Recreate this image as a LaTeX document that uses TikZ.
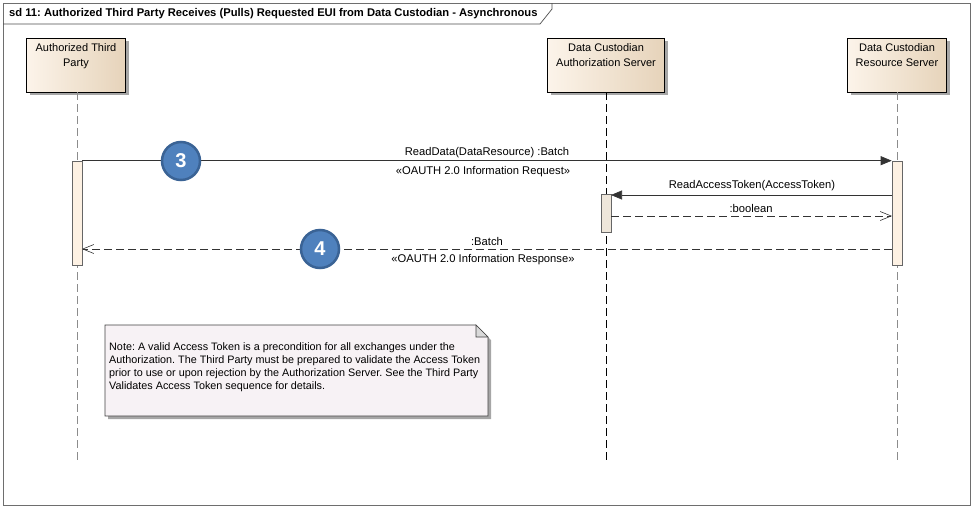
\documentclass[tikz,border=0pt]{standalone}
\usepackage{fontspec}
\setmainfont{Liberation Sans}
\usetikzlibrary{arrows.meta,shadows}
\frenchspacing
\definecolor{headL}{HTML}{FCF4EA}
\definecolor{headM}{HTML}{F7EBDC}
\definecolor{headR}{HTML}{E6D3BA}
\definecolor{barF}{HTML}{FDF1E3}
\definecolor{barG}{HTML}{EEE6DA}
\definecolor{noteF}{HTML}{F7F2F5}
\definecolor{circF}{HTML}{4F81BD}
\definecolor{circD}{HTML}{3A6395}
\definecolor{frameC}{HTML}{6E6E6E}
\tikzset{
  head/.style={draw=black, line width=0.7pt, left color=headL, middle color=headM, right color=headR,
    minimum width=99pt, minimum height=54pt, inner sep=0pt,
    drop shadow={shadow xshift=3pt, shadow yshift=-3pt, fill=black!35, opacity=1}},
  headtxt/.style={anchor=north, align=center, font=\fontsize{11}{14.5}\selectfont, inner sep=0pt},
  lifeline/.style={draw=black!45, line width=0.6pt, dash pattern=on 8pt off 4pt},
  lifelineB/.style={draw=black, line width=0.6pt, dash pattern=on 8pt off 4pt},
  actbar/.style={draw=black!60, line width=0.6pt, fill=barF, minimum width=10pt, inner sep=0pt},
  msg/.style={draw=black!80, line width=0.6pt, -{Triangle[length=11pt,width=9pt]}},
  ret/.style={draw=black!80, line width=0.6pt, dash pattern=on 8pt off 4pt,
    -{Straight Barb[length=11pt,width=9pt,line width=0.6pt]}},
  mlabel/.style={font=\fontsize{11.2}{13}\selectfont, inner sep=0pt},
  stepnum/.style={circle, fill=circF, draw=circD, line width=2.5pt, minimum size=38pt, inner sep=0pt,
    text=white, font=\fontsize{20}{20}\selectfont\bfseries},
}
\begin{document}
\begin{tikzpicture}[x=1pt,y=-1pt]
\useasboundingbox (0,0) rectangle (975,509);
% frame
\draw[draw=frameC, line width=0.8pt] (3,3) rectangle (970,505);
\draw[draw=black!70, line width=0.7pt] (3,24) -- (540,24) -- (552,9) -- (552,3);
\node[anchor=west, font=\fontsize{11.2}{12}\selectfont\bfseries, inner sep=0pt] (title) at (9,13.5)
  {sd 11: Authorized Third Party Receives (Pulls) Requested EUI from Data Custodian - Asynchronous};

% lifeline heads
\node[head] (atp) at (76,65) {};
\node[headtxt] (atpT) at (76,43.5) {Authorized Third\\Party};
\node[head, minimum width=117pt] (as) at (606,65) {};
\node[headtxt] (asT) at (606,43.5) {Data Custodian\\Authorization Server};
\node[head] (rs) at (897,65) {};
\node[headtxt] (rsT) at (897,43.5) {Data Custodian\\Resource Server};

% lifelines
\coordinate (atpE) at (77,460);
\coordinate (asE) at (606,460);
\coordinate (rsE) at (897,460);
\draw[lifeline] (atp.south -| atpE) -- (atpE);
\draw[lifelineB] (as.south -| asE) -- (asE);
\draw[lifeline] (rs.south -| rsE) -- (rsE);

% activation bars
\node[actbar, minimum height=104pt] (atpB) at (77,213) {};
\node[actbar, minimum height=104pt] (rsB) at (897,213) {};
\node[actbar, fill=barG, minimum height=38pt] (asB) at (606,213) {};

% message endpoints
\coordinate (m2s) at (892,195);
\coordinate (m2e) at (611,195);
\coordinate (m3s) at (611,216);
\coordinate (m3e) at (892,216);
\coordinate (m4s) at (892,249);
\coordinate (m4e) at (82,249);

% messages
\draw[msg] (atpB.north east) -- (rsB.north west);
\node[mlabel] (l1) at (487,153) {ReadData(DataResource) :Batch};
\node[mlabel] (s1) at (483,172) {«OAUTH 2.0 Information Request»};
\draw[msg] (m2s) -- (m2e);
\node[mlabel] (l2) at (752,186) {ReadAccessToken(AccessToken)};
\draw[ret] (m3s) -- (m3e);
\node[mlabel] (l3) at (751,208) {:boolean};
\draw[ret] (m4s) -- (m4e);
\node[mlabel] (l4) at (487,241) {:Batch};
\node[mlabel] (s4) at (483,260) {«OAUTH 2.0 Information Response»};

% step circles
\node[stepnum] (c3) at (181,161) {3};
\node[stepnum] (c4) at (320,249) {4};

% note
\fill[black!35] (108,328) -- (479,328) -- (491,340) -- (491,419) -- (108,419) -- cycle;
\draw[black!75, line width=0.6pt, fill=noteF] (105,325) -- (476,325) -- (488,337) -- (488,416) -- (105,416) -- cycle;
\draw[black!75, line width=0.6pt, fill=black!15] (476,325) -- (476,337) -- (488,337) -- cycle;
\node[anchor=north west, align=left, inner sep=0pt, font=\fontsize{10.8}{13}\selectfont] (note) at (109,342.5)
  {Note: A valid Access Token is a precondition for all exchanges under the\\
   Authorization. The Third Party must be prepared to validate the Access Token\\
   prior to use or upon rejection by the Authorization Server. See the Third Party\\
   Validates Access Token sequence for details.};
\end{tikzpicture}
\end{document}
